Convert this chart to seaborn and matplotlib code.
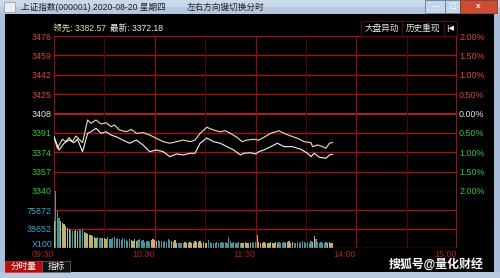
import numpy as np
import pandas as pd
import matplotlib
matplotlib.use("Agg")
import matplotlib.pyplot as plt
import seaborn as sns
from matplotlib.patches import Rectangle
from matplotlib.ticker import FixedLocator

sns.set_theme(style="dark", rc={"axes.facecolor": "black", "figure.facecolor": "black"})
plt.rcParams["font.family"] = ["Liberation Sans", "Noto Sans CJK SC", "DejaVu Sans"]

# ---------------- data ----------------
title = "上证指数(000001) 2020-08-20 星期四"
hint = "左右方向键切换分时"
lead_label = "领先: 3382.57"
last_label = "最新: 3372.18"
buttons = ["大盘异动", "历史重现"]
tabs = ["分时量", "指标"]
watermark = "搜狐号@量化财经"

price_ticks = [3476, 3459, 3442, 3425, 3408, 3391, 3374, 3357, 3340]
pct_labels = ["2.00%", "1.50%", "1.00%", "0.50%", "0.00%", "0.50%", "1.00%", "1.50%", "2.00%"]
prev_close = 3408
vol_ticks = [75872, 38652]
vol_unit = "X100"
time_labels = ["09:30", "10:30", "11:30", "14:00", "15:00"]
time_pos = [0, 60, 120, 180, 240]
half_hours = [30, 90, 150, 210]

lead_min = [0, 2, 5, 7, 9, 11, 13, 15, 17, 20, 22, 25, 28, 31, 34, 36, 39, 43, 46, 49,
            53, 57, 61, 65, 69, 73, 77, 81, 84, 87, 91, 95, 99, 102, 105, 109, 112, 115, 119, 122,
            125, 129, 134, 137, 141, 145, 149, 153, 154, 157, 160, 162, 164, 166]
lead_val = [3387.6, 3377.5, 3385.4, 3383.3, 3386.8, 3383.3, 3388.3, 3385.4, 3382.4, 3402.3,
            3399.4, 3402.3, 3398.8, 3399.9, 3396.4, 3397.9, 3393.5, 3392.0, 3394.1, 3390.6,
            3391.2, 3389.1, 3386.2, 3383.3, 3381.9, 3383.3, 3384.7, 3383.3, 3384.7, 3390.6,
            3395.9, 3393.5, 3392.0, 3392.9, 3390.6, 3387.1, 3383.3, 3384.7, 3385.4, 3384.7,
            3387.1, 3390.6, 3392.9, 3390.6, 3388.3, 3386.2, 3383.3, 3382.4, 3378.9, 3380.4,
            3378.9, 3377.5, 3381.9, 3382.57]

idx_min = [0, 3, 6, 9, 12, 14, 17, 20, 22, 25, 28, 31, 34, 37, 41, 45, 49, 53, 57, 61,
           65, 69, 73, 77, 81, 84, 87, 91, 95, 99, 103, 107, 111, 113, 117, 120, 122, 125, 129, 133,
           137, 142, 147, 151, 153, 155, 158, 162, 164, 166]
idx_val = [3387.6, 3376.0, 3381.9, 3384.7, 3382.4, 3385.4, 3374.5, 3390.6, 3392.0, 3395.0,
           3390.6, 3392.0, 3389.1, 3387.6, 3384.7, 3381.9, 3384.7, 3380.4, 3374.5, 3376.0,
           3374.5, 3370.1, 3372.5, 3371.6, 3373.1, 3373.1, 3381.9, 3386.5, 3383.3, 3381.9,
           3378.9, 3376.0, 3371.6, 3373.1, 3373.6, 3372.5, 3374.5, 3376.0, 3378.9, 3381.9,
           3378.9, 3378.9, 3376.6, 3373.1, 3370.1, 3373.1, 3369.6, 3368.7, 3371.6, 3372.18]

volume = [53900, 113800, 73900, 60600, 53900, 50600, 47300, 43900, 40600, 38600,
          35900, 33900, 33900, 35300, 33900, 37300, 35900, 37300, 32000, 29300,
          27300, 25300, 25300, 24000, 22600, 20600, 22000, 19300, 20600, 19300,
          20600, 18600, 22000, 18600, 17300, 19300, 22600, 18600, 20600, 17300,
          16000, 20600, 17300, 16000, 14000, 17300, 16000, 14000, 18600, 14000,
          16000, 17300, 14000, 16000, 12000, 14000, 14000, 12000, 16000, 18600,
          16000, 14000, 16000, 14000, 14000, 12000, 14000, 12000, 17300, 16000,
          14000, 12000, 16000, 10600, 9300, 10600, 9300, 10600, 12000, 9300,
          10600, 12000, 9300, 10600, 14000, 12000, 12000, 14000,
          10600, 12000, 10600, 9300, 16000, 12000, 10600, 9300, 10600, 12000,
          10600, 9300, 12000, 10600, 12000, 10600, 22600, 14000, 10600, 12000,
          9300, 10600, 12000, 10600, 9300, 10600, 12000, 10600, 9300, 10600,
          12000, 10600, 12000, 25300, 12000, 10600, 9300, 12000, 10600, 9300,
          10600, 12000, 10600, 9300, 12000, 10600, 12000, 9300, 10600, 12000,
          10600, 12000, 14000, 10600, 12000, 10600, 9300, 12000, 10600, 12000,
          14000, 12000, 10600, 12000, 10600, 14000, 12000, 24000, 17300, 12000,
          10600, 12000, 10600, 9300, 12000, 10600, 12000, 10600, 9300]

# ---------------- figure ----------------
W, H = 500, 278
fig = plt.figure(figsize=(W / 100, H / 100), dpi=100, facecolor="black")


def fx(x):
    return x / W


def fy(y):
    return 1 - y / H


def rect(x0, y0, x1, y1, fc, ec="none", lw=0.0, z=0):
    fig.patches.append(Rectangle((fx(x0), fy(y1)), fx(x1) - fx(x0), fy(y0) - fy(y1),
                                 transform=fig.transFigure, facecolor=fc, edgecolor=ec,
                                 linewidth=lw, zorder=z))


# window chrome
rect(0, 0, 500, 7, "#c9d9ea")
rect(0, 7, 500, 14, "#b3c8df")
rect(0, 14, 5, 278, "#a9bfd9")
rect(494, 14, 500, 278, "#a9bfd9")
rect(0, 272, 500, 278, "#b8cadf")
rect(4, 2, 15, 12, "#e9eef2", ec="#808890", lw=0.4)
rect(425, 0, 445, 13, "#c4d6ea", ec="#5a6c80", lw=0.5)
rect(445, 0, 460, 13, "#c4d6ea", ec="#5a6c80", lw=0.5)
rect(460, 0, 497, 13, "#cf4b34", ec="#6a2a20", lw=0.5)
fig.text(fx(435), fy(6.5), "—", color="white", fontsize=5, ha="center", va="center", fontweight="bold")
fig.text(fx(452.5), fy(6.5), "□", color="white", fontsize=5, ha="center", va="center", family=["DejaVu Sans"])
fig.text(fx(478.5), fy(6.5), "x", color="white", fontsize=6, ha="center", va="center", fontweight="bold")
fig.text(fx(21), fy(7.5), title, color="#1c1c1c", fontsize=6.2, ha="left", va="center")
fig.text(fx(187), fy(7.5), hint, color="#1c1c1c", fontsize=6.2, ha="left", va="center")

# header
fig.text(fx(53), fy(28), lead_label, color="#e6dfa0", fontsize=6.2, ha="left", va="center")
fig.text(fx(110), fy(28), last_label, color="#f0f0f0", fontsize=6.2, ha="left", va="center")
rect(361, 21, 402, 36, "black", ec="#5a0c0c", lw=0.8)
rect(402, 21, 444, 36, "black", ec="#5a0c0c", lw=0.8)
rect(444, 21, 457, 36, "black", ec="#5a0c0c", lw=0.8)
fig.text(fx(381.5), fy(28.5), buttons[0], color="#e8e8e8", fontsize=6.2, ha="center", va="center")
fig.text(fx(423), fy(28.5), buttons[1], color="#e8e8e8", fontsize=6.2, ha="center", va="center")
fig.text(fx(450.5), fy(28.5), "|◀", color="white", fontsize=5, ha="center", va="center",
         family=["DejaVu Sans"], fontweight="bold")

# bottom tabs and watermark
rect(5, 261, 42, 272, "#b80c0c", ec="#e03030", lw=0.5)
rect(42, 261, 70, 272, "#111111", ec="#707070", lw=0.5)
fig.text(fx(23.5), fy(266.5), tabs[0], color="white", fontsize=6.2, ha="center", va="center")
fig.text(fx(56), fy(266.5), tabs[1], color="white", fontsize=6.2, ha="center", va="center")
fig.text(fx(389), fy(264), watermark, color="white", fontsize=8.6, ha="left", va="center",
         fontweight="bold")

# ---------------- axes ----------------
axp = fig.add_axes([fx(54), fy(191), fx(457) - fx(54), fy(36) - fy(191)])
axv = fig.add_axes([fx(54), fy(248), fx(457) - fx(54), fy(191) - fy(248)])

RED_GRID = "#a01414"
for ax in (axp, axv):
    ax.set_facecolor("black")
    for s in ax.spines.values():
        s.set_visible(False)
    ax.set_xlim(0, 240)
    ax.xaxis.set_major_locator(FixedLocator(time_pos))
    ax.xaxis.set_minor_locator(FixedLocator(half_hours))
    ax.grid(False)
    ax.tick_params(length=0, which="both")

# price lines
sns.lineplot(x=lead_min, y=lead_val, color="#ece4b0", linewidth=0.8, ax=axp)
sns.lineplot(x=idx_min, y=idx_val, color="#f4f4f4", linewidth=0.8, ax=axp)
axp.set_ylim(price_ticks[-1], price_ticks[0])
axp.set_yticks(price_ticks)
axp.set_yticklabels([str(t) for t in price_ticks])
for lab, t in zip(axp.get_yticklabels(), price_ticks):
    lab.set_color("#e04040" if t > prev_close else ("#e6e6e6" if t == prev_close else "#36c636"))
    lab.set_fontsize(6.4)
axp.tick_params(axis="y", pad=1.5)
axp.set_xticklabels([])
axp.set_xlabel("")
axp.set_ylabel("")
for t in price_ticks:
    axp.axhline(t, color="#c82020" if t == prev_close else RED_GRID,
                lw=1.3 if t == prev_close else 1.0, zorder=0.5)

axr = axp.twinx()
axr.set_ylim(axp.get_ylim())
axr.set_yticks(price_ticks)
axr.set_yticklabels(pct_labels)
for s in axr.spines.values():
    s.set_visible(False)
axr.grid(False)
axr.tick_params(length=0, pad=1.5)
for lab, t in zip(axr.get_yticklabels(), price_ticks):
    lab.set_color("#e04040" if t > prev_close else ("#e6e6e6" if t == prev_close else "#36c636"))
    lab.set_fontsize(6.4)

# volume bars
dfv = pd.DataFrame({"m": np.arange(len(volume)), "v": volume})
cur = np.interp(dfv["m"], idx_min, idx_val)
prv = np.interp(dfv["m"] - 1, idx_min, idx_val)
dfv["dir"] = np.where(cur >= prv, "up", "down")
sns.barplot(data=dfv, x="m", y="v", hue="dir", palette={"up": "#c4bc6c", "down": "#3e9ea8"},
            native_scale=True, dodge=False, width=0.72, errorbar=None, legend=False,
            linewidth=0, ax=axv)
axv.set_xlim(0, 240)
axv.set_ylim(0, vol_ticks[0] * 1.5)
axv.set_yticks(vol_ticks)
axv.set_yticklabels([str(t) for t in vol_ticks])
for lab in axv.get_yticklabels():
    lab.set_color("#44a8cc")
    lab.set_fontsize(6.4)
axv.tick_params(axis="y", pad=1.5)
axv.set_xlabel("")
axv.set_ylabel("")
axv.xaxis.set_major_locator(FixedLocator(time_pos))
axv.set_xticklabels(time_labels)
for lab in axv.get_xticklabels():
    lab.set_color("#b41e1e")
    lab.set_fontsize(6.4)
    lab.set_ha("right")
axv.tick_params(axis="x", pad=1.5)
for t in vol_ticks:
    axv.axhline(t, color=RED_GRID, lw=1.0, zorder=0.5)
axv.axhline(0, color=RED_GRID, lw=1.0, zorder=3)
axv.text(-0.004, 0.06, vol_unit, transform=axv.transAxes, color="#44a8cc", fontsize=6.4,
         ha="right", va="center")

# vertical grid
for ax in (axp, axv):
    for m in time_pos:
        lw = 1.2 if m in (0, 240) else 0.9
        ax.axvline(m, color="#b41818" if m in (0, 240) else "#8a1010", lw=lw, zorder=0.6)
    for m in half_hours:
        ax.axvline(m, color="#4a0a0a", lw=0.8, zorder=0.6)

fig.savefig("out.png", dpi=100, facecolor="black")
